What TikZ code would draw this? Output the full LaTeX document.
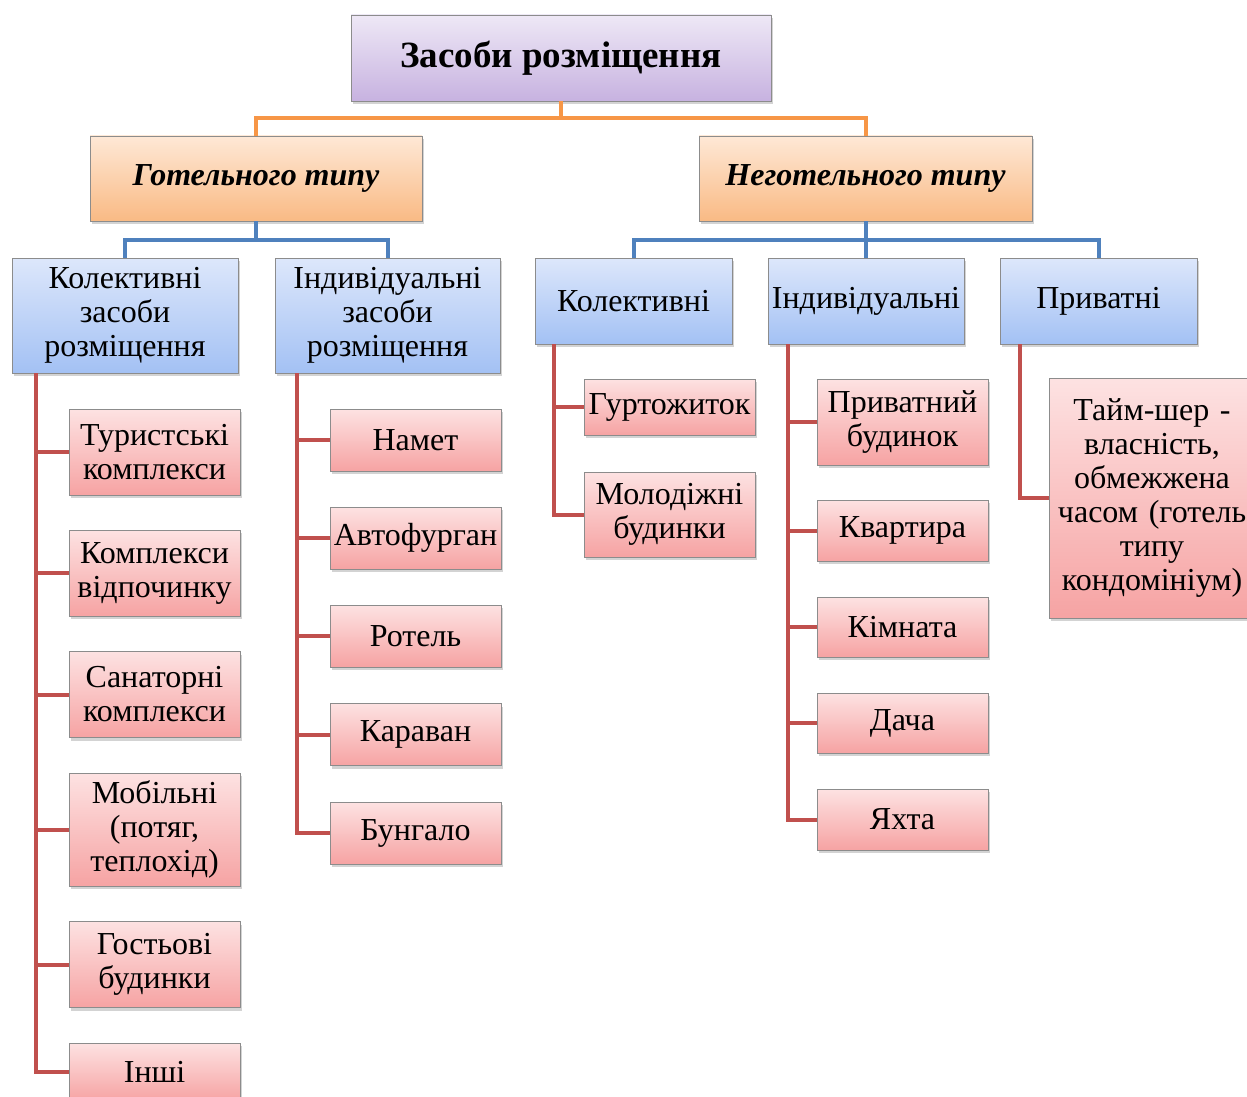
\documentclass[tikz,border=0pt]{standalone}
\usepackage{fontspec}
\setmainfont{Liberation Serif}
\usetikzlibrary{shadows}
\definecolor{lnorange}{HTML}{F79646}
\definecolor{lnblue}{HTML}{4F81BD}
\definecolor{lnred}{HTML}{C0504D}
\definecolor{purtop}{HTML}{EEE8F6}
\definecolor{purbot}{HTML}{C7B2E0}
\definecolor{ortop}{HTML}{FEE8D6}
\definecolor{orbot}{HTML}{F9BA84}
\definecolor{bltop}{HTML}{DDE7FB}
\definecolor{blbot}{HTML}{A3C1F4}
\definecolor{rdtop}{HTML}{FDE2E2}
\definecolor{rdbot}{HTML}{F6A3A3}
\tikzset{
  basebox/.style={rectangle, draw=black!45, line width=0.8pt, inner sep=0pt, align=center,
    drop shadow={opacity=0.35, shadow xshift=2pt, shadow yshift=-3pt},
    font=\fontsize{32pt}{34pt}\selectfont},
  rootbox/.style={basebox, top color=purtop, bottom color=purbot, font=\fontsize{37pt}{40pt}\selectfont\bfseries},
  typebox/.style={basebox, top color=ortop, bottom color=orbot, font=\fontsize{32pt}{34pt}\selectfont\bfseries\itshape},
  catbox/.style={basebox, top color=bltop, bottom color=blbot},
  leafbox/.style={basebox, top color=rdtop, bottom color=rdbot},
  oline/.style={draw=lnorange, line width=4pt},
  bline/.style={draw=lnblue, line width=4pt},
  rline/.style={draw=lnred, line width=4pt},
}
\begin{document}
\begin{tikzpicture}[x=1pt,y=-1pt]
\useasboundingbox (0,0) rectangle (1247,1097);
% nodes
\node[rootbox, minimum width=420pt, minimum height=86pt] (root) at (561,58) {Засоби розміщення};
\node[typebox, minimum width=332pt, minimum height=85pt] (got) at (256,178.5) {Готельного типу};
\node[typebox, minimum width=333pt, minimum height=85pt] (neg) at (865.5,178.5) {Неготельного типу};
\node[catbox, minimum width=226pt, minimum height=115pt, text width=226pt] (kz) at (125,315.5) {Колективні\\засоби\\розміщення};
\node[catbox, minimum width=225pt, minimum height=115pt, text width=225pt] (iz) at (387.5,315.5) {Індивідуальні\\засоби\\розміщення};
\node[catbox, minimum width=197pt, minimum height=86pt] (kol) at (633.5,301) {Колективні};
\node[catbox, minimum width=196pt, minimum height=86pt] (ind) at (866,301) {Індивідуальні};
\node[catbox, minimum width=197pt, minimum height=86pt] (pr) at (1098.5,301) {Приватні};
% left column
\node[leafbox, minimum width=171pt, minimum height=86pt, text width=171pt] (a1) at (154.5,452) {Туристські\\комплекси};
\node[leafbox, minimum width=171pt, minimum height=86pt, text width=171pt] (a2) at (154.5,573) {Комплекси\\відпочинку};
\node[leafbox, minimum width=171pt, minimum height=86pt, text width=171pt] (a3) at (154.5,694.5) {Санаторні\\комплекси};
\node[leafbox, minimum width=171pt, minimum height=113pt, text width=171pt] (a4) at (154.5,829.5) {Мобільні\\(потяг,\\теплохід)};
\node[leafbox, minimum width=171pt, minimum height=86pt, text width=171pt] (a5) at (154.5,964.5) {Гостьові\\будинки};
\node[leafbox, minimum width=171pt, minimum height=58pt, text width=171pt] (a6) at (154.5,1072) {Інші};
% second column
\node[leafbox, minimum width=171pt, minimum height=62pt] (b1) at (415.5,440) {Намет};
\node[leafbox, minimum width=171pt, minimum height=62pt] (b2) at (415.5,538) {Автофурган};
\node[leafbox, minimum width=171pt, minimum height=62pt] (b3) at (415.5,636) {Ротель};
\node[leafbox, minimum width=171pt, minimum height=62pt] (b4) at (415.5,734.5) {Караван};
\node[leafbox, minimum width=171pt, minimum height=62pt] (b5) at (415.5,833) {Бунгало};
% third column
\node[leafbox, minimum width=171pt, minimum height=56pt] (c1) at (669.5,407) {Гуртожиток};
\node[leafbox, minimum width=171pt, minimum height=85pt, text width=171pt] (c2) at (669.5,514.5) {Молодіжні\\будинки};
% fourth column
\node[leafbox, minimum width=171pt, minimum height=86pt, text width=171pt] (d1) at (902.5,422) {Приватний\\будинок};
\node[leafbox, minimum width=171pt, minimum height=61pt] (d2) at (902.5,530.5) {Квартира};
\node[leafbox, minimum width=171pt, minimum height=60pt] (d3) at (902.5,627) {Кімната};
\node[leafbox, minimum width=171pt, minimum height=60pt] (d4) at (902.5,723) {Дача};
\node[leafbox, minimum width=171pt, minimum height=61pt] (d5) at (902.5,819.5) {Яхта};
% fifth
\node[leafbox, minimum width=206pt, minimum height=240pt, text width=206pt] (e1) at (1152,498) {Тайм-шер -\\власність,\\обмежжена\\часом (готель\\типу\\кондомініум)};
% connectors
\draw[oline] (root.south) -- ++(0,17) -| (got.north);
\draw[oline] (root.south) -- ++(0,17) -| (neg.north);
\draw[bline] (got.south) -- ++(0,19) -| (kz.north);
\draw[bline] (got.south) -- ++(0,19) -| (iz.north);
\draw[bline] (neg.south) -- ++(0,19) -| (kol.north);
\draw[bline] (neg.south) -- ++(0,19) -| (ind.north);
\draw[bline] (neg.south) -- ++(0,19) -| (pr.north);
\foreach \n in {a1,a2,a3,a4,a5,a6}{\draw[rline] ([xshift=24pt]kz.south west) |- (\n.west);}
\foreach \n in {b1,b2,b3,b4,b5}{\draw[rline] ([xshift=22pt]iz.south west) |- (\n.west);}
\foreach \n in {c1,c2}{\draw[rline] ([xshift=19pt]kol.south west) |- (\n.west);}
\foreach \n in {d1,d2,d3,d4,d5}{\draw[rline] ([xshift=20pt]ind.south west) |- (\n.west);}
\draw[rline] ([xshift=20pt]pr.south west) |- (e1.west);
\end{tikzpicture}
\end{document}
